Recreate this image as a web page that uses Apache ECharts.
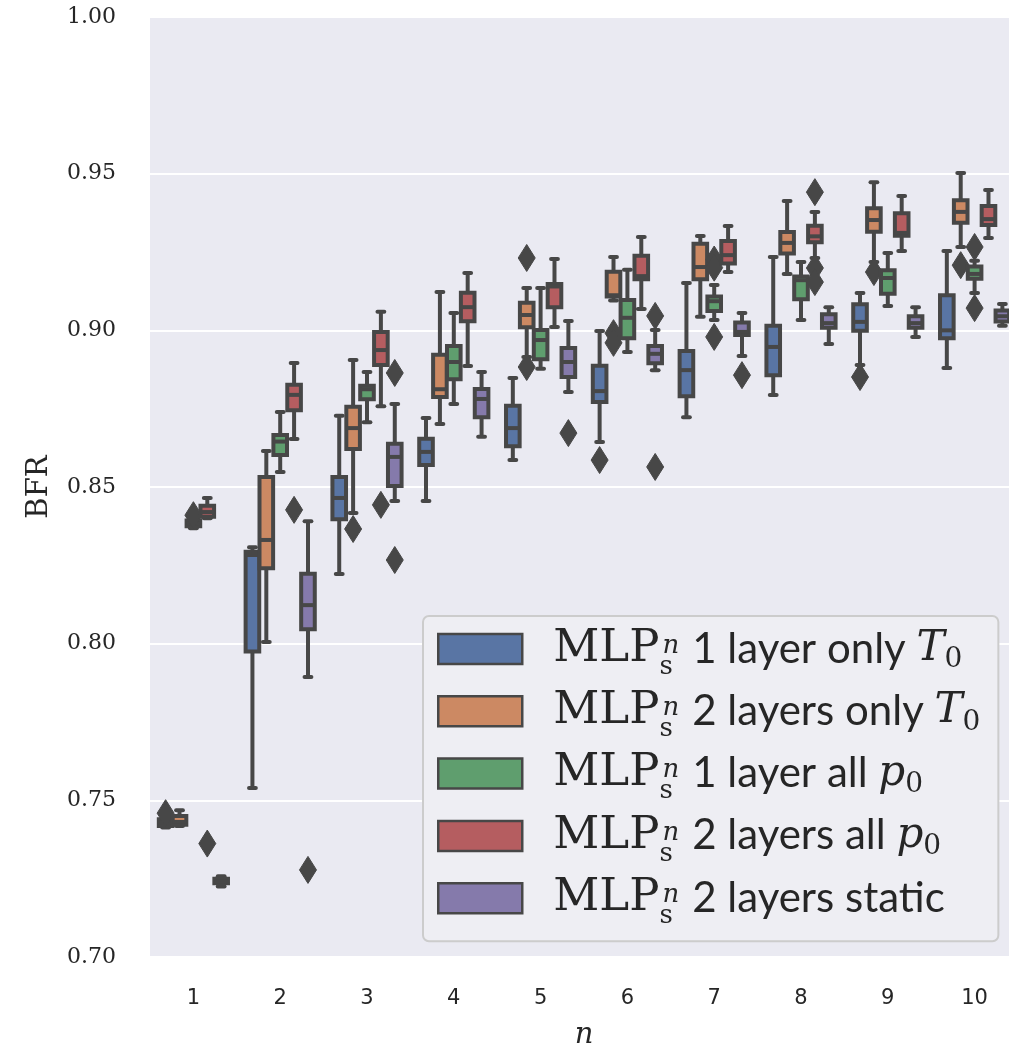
<!DOCTYPE html>
<html><head><meta charset="utf-8">
<script src="https://cdn.jsdelivr.net/npm/echarts@6/dist/echarts.min.js"></script>
<style>html,body{margin:0;padding:0;background:#fff}#c{width:1009px;height:1044px}</style>
</head><body><div id="c"></div>
<script>
// ---------------- data ----------------
const categories = ['1','2','3','4','5','6','7','8','9','10'];
const yTicks = [0.70, 0.75, 0.80, 0.85, 0.90, 0.95, 1.00];
const hueNames = [
  'MLP_s^n 1 layer only T_0',
  'MLP_s^n 2 layers only T_0',
  'MLP_s^n 1 layer all p_0',
  'MLP_s^n 2 layers all p_0',
  'MLP_s^n 2 layers static'
];
const legendDesc = ['1 layer only ', '2 layers only ', '1 layer all ', '2 layers all ', '2 layers static'];
const legendVar = ['T', 'T', 'p', 'p', ''];

// each row: [lower whisker, q1, median, q3, upper whisker]
const blueStats = [
  [0.7413,0.7418,0.7428,0.7440,0.7445],
  [0.7539,0.7975,0.8283,0.8293,0.8308],
  [0.8222,0.8397,0.8465,0.8532,0.8727],
  [0.8455,0.8570,0.8612,0.8654,0.8720],
  [0.8586,0.8630,0.8688,0.8759,0.8848],
  [0.8644,0.8771,0.8806,0.8887,0.8998],
  [0.8723,0.8790,0.8873,0.8934,0.9151],
  [0.8794,0.8857,0.8947,0.9015,0.9234],
  [0.8889,0.8999,0.9027,0.9083,0.9119],
  [0.8880,0.8975,0.9000,0.9112,0.9253]
];
const blueFliers = [[0.7459],[],[],[],[],[0.8586],[],[],[0.8851],[]];

const orangeStats = [
  [0.7418,0.7422,0.7431,0.7450,0.7468],
  [0.8005,0.8241,0.8331,0.8532,0.8615],
  [0.8417,0.8621,0.8688,0.8756,0.8905],
  [0.8701,0.8787,0.8812,0.8922,0.9122],
  [0.8915,0.9010,0.9049,0.9088,0.9135],
  [0.9095,0.9108,0.9112,0.9187,0.9234],
  [0.9043,0.9163,0.9202,0.9276,0.9301],
  [0.9180,0.9245,0.9279,0.9314,0.9413],
  [0.9218,0.9315,0.9352,0.9390,0.9473],
  [0.9266,0.9343,0.9378,0.9415,0.9502]
];
const orangeFliers = [[],[],[0.8366],[],[0.9231,0.8883],[0.8991,0.8960],[],[],[0.9186],[0.9208]];

const greenStats = [
  [0.8368,0.8375,0.8385,0.8393,0.8400],
  [0.8548,0.8602,0.8645,0.8666,0.8739],
  [0.8707,0.8780,0.8812,0.8823,0.8867],
  [0.8765,0.8844,0.8899,0.8950,0.9055],
  [0.8877,0.8908,0.8969,0.9001,0.9135],
  [0.8931,0.8975,0.9040,0.9097,0.9193],
  [0.9033,0.9062,0.9093,0.9108,0.9145],
  [0.9033,0.9099,0.9160,0.9172,0.9218],
  [0.9078,0.9117,0.9167,0.9192,0.9247],
  [0.9119,0.9165,0.9180,0.9204,0.9222]
];
const greenFliers = [[0.8410],[],[],[],[],[],[0.9226,0.9200,0.8979],[],[],[0.9266,0.9071]];

const redStats = [
  [0.8400,0.8405,0.8420,0.8440,0.8465],
  [0.8653,0.8745,0.8794,0.8826,0.8896],
  [0.8758,0.8889,0.8937,0.8995,0.9059],
  [0.8886,0.9029,0.9074,0.9120,0.9183],
  [0.9011,0.9074,0.9140,0.9148,0.9228],
  [0.9068,0.9163,0.9173,0.9238,0.9298],
  [0.9186,0.9213,0.9240,0.9285,0.9333],
  [0.9231,0.9281,0.9300,0.9334,0.9378],
  [0.9253,0.9302,0.9311,0.9374,0.9429],
  [0.9295,0.9336,0.9355,0.9397,0.9448]
];
const redFliers = [[0.7362],[0.8427],[0.8443],[],[],[],[],[0.9441,0.9199,0.9154],[],[]];

const purpleStats = [
  [0.7225,0.7235,0.7242,0.7250,0.7258],
  [0.7894,0.8046,0.8123,0.8223,0.8391],
  [0.8455,0.8503,0.8596,0.8638,0.8765],
  [0.8660,0.8723,0.8781,0.8813,0.8867],
  [0.8803,0.8851,0.8899,0.8944,0.9030],
  [0.8873,0.8895,0.8925,0.8950,0.9001],
  [0.8918,0.8985,0.8995,0.9025,0.9055],
  [0.8956,0.9008,0.9023,0.9051,0.9074],
  [0.8979,0.9008,0.9023,0.9045,0.9074],
  [0.9015,0.9028,0.9045,0.9063,0.9084]
];
const purpleFliers = [[],[0.7278],[0.8864,0.8267],[],[0.8672],[0.9046,0.8564],[0.8857],[],[],[]];

// ---------------- chart ----------------
const stats = [blueStats, orangeStats, greenStats, redStats, purpleStats];
const fliers = [blueFliers, orangeFliers, greenFliers, redFliers, purpleFliers];
const palette = ['#5975A4', '#CC8963', '#5F9E6E', '#B55D60', '#857AAB'];
const edge = '#474747';
const LW = 4;

function boxSeries(h) {
  return {
    type: 'custom', name: hueNames[h], coordinateSystem: 'cartesian2d',
    itemStyle: { color: palette[h] },
    encode: { x: 0, y: [1, 2, 3, 4, 5] },
    data: stats[h].map((s, i) => [i].concat(s)),
    renderItem: function (params, api) {
      const cat = api.value(0);
      const band = api.size([1, 0])[0];
      const cx = api.coord([cat, api.value(3)])[0] + (h - 2) * band * 0.16;
      const y = [1, 2, 3, 4, 5].map(d => api.coord([cat, api.value(d)])[1]);
      const bw = band * 0.16 * 0.98;
      const cw = bw * 0.5;
      const ls = { stroke: edge, lineWidth: LW };
      const cs = { stroke: edge, lineWidth: LW, lineCap: 'round' };
      return { type: 'group', children: [
        { type: 'line', shape: { x1: cx, y1: y[1], x2: cx, y2: y[0] }, style: ls },
        { type: 'line', shape: { x1: cx, y1: y[3], x2: cx, y2: y[4] }, style: ls },
        { type: 'line', shape: { x1: cx - cw / 2, y1: y[0], x2: cx + cw / 2, y2: y[0] }, style: cs },
        { type: 'line', shape: { x1: cx - cw / 2, y1: y[4], x2: cx + cw / 2, y2: y[4] }, style: cs },
        { type: 'rect', shape: { x: cx - bw / 2, y: y[3], width: bw, height: y[1] - y[3] },
          style: { fill: palette[h], stroke: edge, lineWidth: LW } },
        { type: 'line', shape: { x1: cx - bw / 2, y1: y[2], x2: cx + bw / 2, y2: y[2] }, style: ls }
      ]};
    }
  };
}

function flierSeries(h) {
  const data = [];
  fliers[h].forEach((arr, i) => arr.forEach(v => data.push([i, v])));
  return {
    type: 'custom', name: hueNames[h], coordinateSystem: 'cartesian2d',
    itemStyle: { color: palette[h] },
    encode: { x: 0, y: 1 },
    data: data,
    renderItem: function (params, api) {
      const cat = api.value(0);
      const band = api.size([1, 0])[0];
      const p = api.coord([cat, api.value(1)]);
      const cx = p[0] + (h - 2) * band * 0.16;
      const cy = p[1];
      const hw = 8.5, hh = 13.5;
      return { type: 'polygon',
        shape: { points: [[cx, cy - hh], [cx + hw, cy], [cx, cy + hh], [cx - hw, cy]] },
        style: { fill: edge, stroke: edge, lineWidth: 1 } };
    }
  };
}

const series = [];
for (let h = 0; h < 5; h++) { series.push(boxSeries(h)); series.push(flierSeries(h)); }

const option = {
  animation: false,
  backgroundColor: '#ffffff',
  grid: { left: 150, top: 17, width: 868, height: 940, show: true, backgroundColor: '#EAEAF2',
          borderWidth: 0, containLabel: false, outerBoundsMode: 'none' },
  xAxis: {
    type: 'category', data: categories, boundaryGap: true,
    axisLine: { show: false }, axisTick: { show: false }, splitLine: { show: false },
    axisLabel: { fontFamily: 'DejaVu Sans', fontSize: 21, color: '#262626', margin: 31 },
    name: 'n', nameLocation: 'middle', nameGap: 64,
    nameTextStyle: { fontFamily: 'DejaVu Serif', fontStyle: 'italic', fontSize: 29, color: '#262626' }
  },
  yAxis: {
    type: 'value', min: yTicks[0], max: yTicks[yTicks.length - 1], interval: 0.05,
    axisLine: { show: false }, axisTick: { show: false },
    splitLine: { lineStyle: { color: '#ffffff', width: 2 } },
    axisLabel: { formatter: v => v.toFixed(2), fontFamily: 'DejaVu Serif', fontSize: 22, color: '#262626', margin: 34 },
    name: 'BFR', nameLocation: 'middle', nameGap: 96, nameRotate: 90,
    nameTextStyle: { fontFamily: 'DejaVu Serif', fontSize: 29, color: '#262626' }
  },
  legend: {
    orient: 'vertical', left: 423, top: 616,
    itemWidth: 84, itemHeight: 30, itemGap: 0.3,
    padding: [2, 18, 12, 14],
    backgroundColor: '#EEEEF3', borderColor: '#CCCCCC', borderWidth: 2, borderRadius: 6,
    selectedMode: false, icon: 'rect',
    data: hueNames.map((n, i) => ({ name: n, itemStyle: { color: palette[i], borderColor: edge, borderWidth: 2.5 } })),
    formatter: function (name) {
      const i = hueNames.indexOf(name);
      let s = '{m|MLP}{ss|s}{sn|n}{t|' + legendDesc[i] + '}';
      if (legendVar[i]) s += '{v|' + legendVar[i] + '}{vs|0}';
      return s;
    },
    textStyle: {
      color: '#262626', fontSize: 42, lineHeight: 62,
      rich: {
        m: { fontFamily: 'DejaVu Serif', fontSize: 45, lineHeight: 62, color: '#262626', padding: [0, 0, 0, 26] },
        ss: { fontFamily: 'DejaVu Serif', fontSize: 26, lineHeight: 26, color: '#262626', verticalAlign: 'bottom', width: 3 },
        sn: { fontFamily: 'DejaVu Serif', fontStyle: 'italic', fontSize: 26, lineHeight: 26, color: '#262626', verticalAlign: 'top', padding: [15, 0, 0, 0] },
        t: { fontFamily: 'Lato', fontSize: 42, lineHeight: 62, color: '#262626', padding: [0, 0, 0, 13] },
        v: { fontFamily: 'DejaVu Serif', fontStyle: 'italic', fontSize: 42, lineHeight: 62, color: '#262626' },
        vs: { fontFamily: 'DejaVu Serif', fontSize: 28, lineHeight: 28, color: '#262626', verticalAlign: 'bottom', padding: [0, 0, 6, 0] }
      }
    }
  },
  series: series
};

const chart = echarts.init(document.getElementById('c'), null, { renderer: 'canvas' });
chart.setOption(option);
</script>
</body></html>
